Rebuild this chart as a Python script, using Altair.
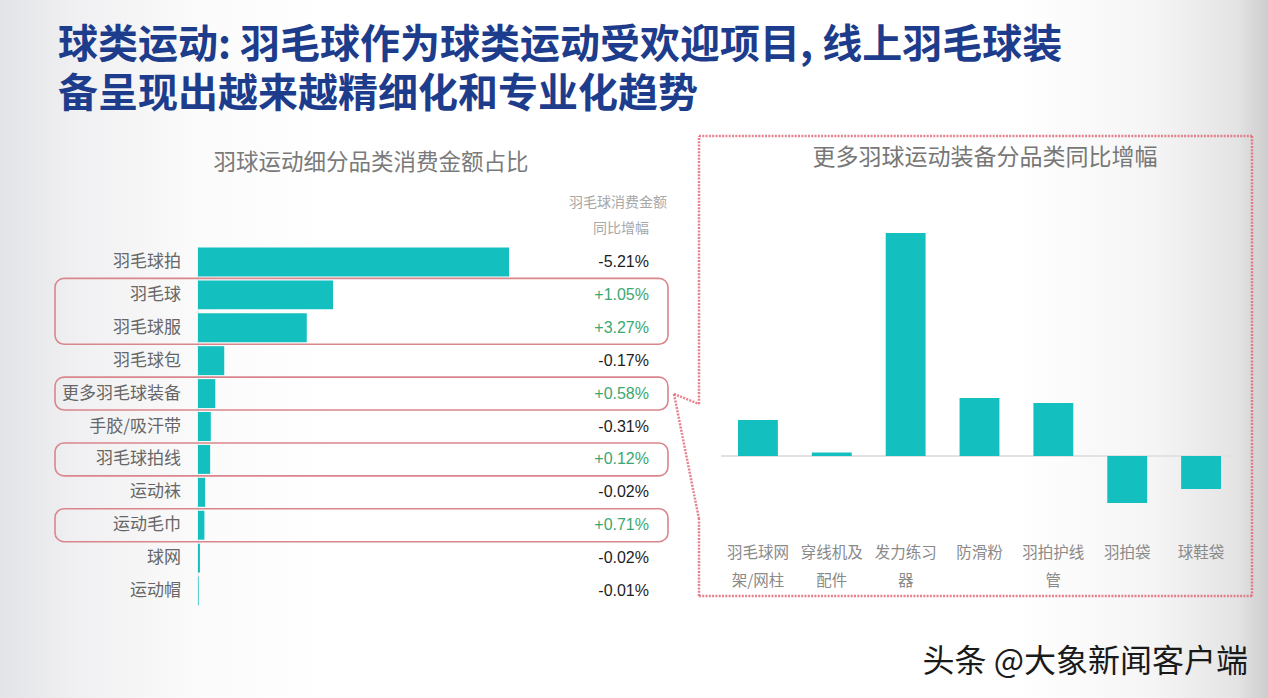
import altair as alt
import pandas as pd

W, H = 1268, 698
CJK = "Noto Sans CJK SC"
LAT = "Liberation Sans"
TEAL = "#14bfc0"
RED = "#e26c79"
BOXRED = "#d9868c"

# ---------------- data ----------------
title_lines = ["球类运动: 羽毛球作为球类运动受欢迎项目, 线上羽毛球装",
               "备呈现出越来越精细化和专业化趋势"]
left_title = "羽球运动细分品类消费金额占比"
col_header = ["羽毛球消费金额", "同比增幅"]
left_cats = ["羽毛球拍", "羽毛球", "羽毛球服", "羽毛球包", "更多羽毛球装备", "手胶/吸汗带",
             "羽毛球拍线", "运动袜", "运动毛巾", "球网", "运动帽"]
left_share = [48.6, 21.1, 17.0, 4.1, 2.7, 2.0, 1.9, 1.1, 1.0, 0.3, 0.1]
left_yoy = ["-5.21%", "+1.05%", "+3.27%", "-0.17%", "+0.58%", "-0.31%",
            "+0.12%", "-0.02%", "+0.71%", "-0.02%", "-0.01%"]
highlight_groups = [["羽毛球", "羽毛球服"], ["更多羽毛球装备"], ["羽毛球拍线"], ["运动毛巾"]]

right_title = "更多羽球运动装备分品类同比增幅"
right_cats = ["羽毛球网架/网柱", "穿线机及配件", "发力练习器", "防滑粉", "羽拍护线管", "羽拍袋", "球鞋袋"]
right_vals = [36, 3.5, 223, 58, 53, -47, -33]
watermark = "头条 @大象新闻客户端"

# ---------------- tables ----------------
n = len(left_cats)
left_df = pd.DataFrame({"cat": left_cats, "share": left_share, "yoy": left_yoy,
                        "row": list(range(n))})
left_df["y0"] = left_df["row"] - 0.44
left_df["y1"] = left_df["row"] + 0.44
left_df["zero"] = 0.0
left_df["pos"] = left_df["yoy"].str.startswith("+")

rows = {c: i for i, c in enumerate(left_cats)}
box_df = pd.DataFrame({
    "b0": [min(rows[c] for c in g) - 0.5 for g in highlight_groups],
    "b1": [max(rows[c] for c in g) + 0.5 for g in highlight_groups],
})

right_df = pd.DataFrame({"cat": right_cats, "val": right_vals, "idx": list(range(len(right_cats)))})
right_df["x0"] = right_df["idx"] - 0.27
right_df["x1"] = right_df["idx"] + 0.27
right_df["zero"] = 0.0
right_df["l1"] = right_df["cat"].str[:4]
right_df["l2"] = right_df["cat"].str[4:]

# ---------------- scales (pixel ranges inside canvas) ----------------
lx = alt.Scale(domain=[0, 48.6], range=[198, 509], nice=False, zero=False)
ly = alt.Scale(domain=[-0.5, 10.5], range=[245.5, 607.5], nice=False, zero=False)
rx = alt.Scale(domain=[-0.5, 6.5], range=[721, 1238], nice=False, zero=False)
ry = alt.Scale(domain=[-50, 230], range=[506, 226], nice=False, zero=False)


def txt(s, x, y, **kw):
    return alt.Chart(pd.DataFrame({"t": [s]})).mark_text(**kw).encode(
        text="t:N", x=alt.value(x), y=alt.value(y))


one = pd.DataFrame({"a": [0]})

bg = alt.Chart(one).mark_rect(color={
    "gradient": "linear", "x1": 0, "x2": 1, "y1": 0, "y2": 0,
    "stops": [{"offset": 0, "color": "#e3e4e8"}, {"offset": 0.06, "color": "#f0f0f2"},
              {"offset": 0.16, "color": "#fbfbfb"}, {"offset": 0.26, "color": "#ffffff"},
              {"offset": 0.8, "color": "#ffffff"}, {"offset": 0.91, "color": "#f5f5f5"},
              {"offset": 0.975, "color": "#e4e4e4"}, {"offset": 1, "color": "#cdcdcd"}]
}).encode(x=alt.value(0), x2=alt.value(W), y=alt.value(0), y2=alt.value(H))

layers = [bg]

# title (two lines in one text mark)
layers.append(txt("\n".join(title_lines), 58, 46, align="left", baseline="middle", font=CJK,
                  fontSize=40, fontWeight="bold", color="#1d3d8c", lineBreak="\n",
                  lineHeight=49))
layers.append(txt(left_title, 371, 163, align="center", baseline="middle", font=CJK,
                  fontSize=22.5, color="#7a7a7a"))
layers.append(txt(col_header[0], 618, 203, align="center", baseline="middle", font=CJK,
                  fontSize=14, color="#a8a8a8"))
layers.append(txt(col_header[1], 621, 229, align="center", baseline="middle", font=CJK,
                  fontSize=14, color="#a8a8a8"))

# left axis line
layers.append(alt.Chart(one).mark_rule(color="#e4e4e4", strokeWidth=1).encode(
    x=alt.value(198), y=alt.value(247), y2=alt.value(605)))

# left bars
layers.append(alt.Chart(left_df).mark_rect(color=TEAL).encode(
    x=alt.X("share:Q", scale=lx, axis=None), x2="zero:Q",
    y=alt.Y("y0:Q", scale=ly, axis=None), y2="y1:Q"))

# category labels
layers.append(alt.Chart(left_df).mark_text(align="right", baseline="middle", font=CJK,
                                           fontSize=17, color="#666666").encode(
    x=alt.value(181), y=alt.Y("row:Q", scale=ly, axis=None), text="cat:N"))

# yoy labels
layers.append(alt.Chart(left_df).transform_filter("datum.pos").mark_text(
    align="right", baseline="middle", font=LAT, fontSize=16, color="#3aa872").encode(
    x=alt.value(649), y=alt.Y("row:Q", scale=ly, axis=None), text="yoy:N"))
layers.append(alt.Chart(left_df).transform_filter("!datum.pos").mark_text(
    align="right", baseline="middle", font=LAT, fontSize=16, color="#1e1e1e").encode(
    x=alt.value(649), y=alt.Y("row:Q", scale=ly, axis=None), text="yoy:N"))

# highlight boxes
layers.append(alt.Chart(box_df).mark_rect(fillOpacity=0, stroke=BOXRED, strokeWidth=1.6,
                                          cornerRadius=9).encode(
    x=alt.value(55), x2=alt.value(668),
    y=alt.Y("b0:Q", scale=ly, axis=None), y2="b1:Q"))

# right panel callout border (decoration)
segs = [((699, 136), (1252, 136)), ((1252, 136), (1252, 596)), ((1252, 596), (699, 596)),
        ((699, 596), (699, 519)), ((699, 519), (674, 394)), ((674, 394), (699, 404)),
        ((699, 404), (699, 136))]
for (xa, ya), (xb, yb) in segs:
    layers.append(alt.Chart(one).mark_rule(color=RED, strokeWidth=2.5, strokeDash=[2, 1.3],
                                           opacity=0.85).encode(
        x=alt.value(xa), y=alt.value(ya), x2=alt.value(xb), y2=alt.value(yb)))

layers.append(txt(right_title, 985, 158, align="center", baseline="middle", font=CJK,
                  fontSize=23, color="#777777"))

# zero line
layers.append(alt.Chart(pd.DataFrame({"zero": [0.0]})).mark_rule(color="#e2e2e2", strokeWidth=2).encode(
    x=alt.value(721), x2=alt.value(1238), y=alt.Y("zero:Q", scale=ry, axis=None)))

# right bars
layers.append(alt.Chart(right_df).mark_rect(color=TEAL).encode(
    x=alt.X("x0:Q", scale=rx, axis=None), x2="x1:Q",
    y=alt.Y("val:Q", scale=ry, axis=None), y2="zero:Q"))

# right x labels
layers.append(alt.Chart(right_df).mark_text(align="center", baseline="middle", font=CJK,
                                            fontSize=15.5, color="#8a8a8a").encode(
    x=alt.X("idx:Q", scale=rx, axis=None), y=alt.value(553), text="l1:N"))
layers.append(alt.Chart(right_df).mark_text(align="center", baseline="middle", font=CJK,
                                            fontSize=15.5, color="#8a8a8a").encode(
    x=alt.X("idx:Q", scale=rx, axis=None), y=alt.value(581), text="l2:N"))

# watermark
layers.append(txt(watermark, 1248, 662, align="right", baseline="middle", font=CJK,
                  fontSize=32, color="#1a1a1a"))

chart = alt.layer(*layers).resolve_scale(x="independent", y="independent").properties(
    width=W, height=H, padding=0, autosize="none", background="white"
).configure_view(strokeWidth=0)

chart.save("out.html", embed_options={"renderer": "svg", "actions": False})
